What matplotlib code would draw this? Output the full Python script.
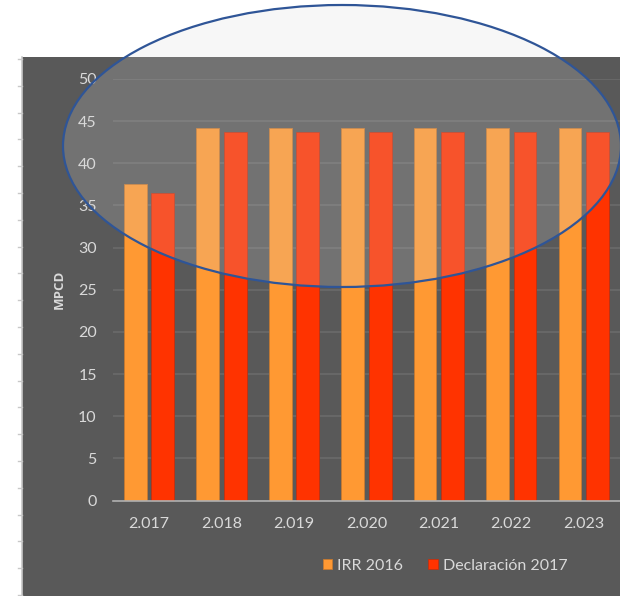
import matplotlib
matplotlib.use("Agg")
import matplotlib.pyplot as plt
from matplotlib.patches import Ellipse, Rectangle
import numpy as np

categories = ["2.017", "2.018", "2.019", "2.020", "2.021", "2.022", "2.023"]
irr_2016 = [37.5, 44.2, 44.2, 44.2, 44.2, 44.2, 44.2]
declaracion_2017 = [36.5, 43.7, 43.7, 43.7, 43.7, 43.7, 43.7]
series_names = ["IRR 2016", "Declaración 2017"]
y_ticks = [0, 5, 10, 15, 20, 25, 30, 35, 40, 45, 50]

plt.rcParams['font.family'] = ['Lato', 'DejaVu Sans']

W, H = 620, 596
fig = plt.figure(figsize=(6.2, 5.96), dpi=100)
fig.patch.set_facecolor("white")

# background overlay axes for dark panel (drawn first)
bgax = fig.add_axes([0, 0, 1, 1], zorder=-5)
bgax.set_xlim(0, W)
bgax.set_ylim(H, 0)
bgax.axis("off")
bgax.add_patch(Rectangle((22, 57), W - 22, H - 57, facecolor="#595959", edgecolor="none"))
bgax.plot([22, 22], [57, H], color="#c8c8c8", lw=1.2)
for k in range(21):
    yy = 59 + 26.8 * k
    bgax.plot([18, 22], [yy, yy], color="#c8c8c8", lw=1.0)

ax = fig.add_axes([112.75 / W, (H - 500.5) / H, (620 - 112.75) / W, (500.5 - 79) / H], zorder=1)
ax.set_facecolor("none")
x = np.arange(len(categories))
bw = 0.315
off = 0.19
ax.bar(x - off, irr_2016, width=bw, color="#FF9933", edgecolor="#c77a30", linewidth=0.6,
       label=series_names[0], zorder=3)
ax.bar(x + off, declaracion_2017, width=bw, color="#FF3300", edgecolor="#c23010", linewidth=0.6,
       label=series_names[1], zorder=3)
ax.set_xlim(-0.5, 6.5)
ax.set_ylim(0, 50)
ax.set_yticks(y_ticks)
ax.set_xticks(x)
ax.set_xticklabels(categories)
ax.yaxis.grid(True, color="#6b6b6b", lw=1.2, zorder=1)
ax.set_axisbelow(True)
for s in ["top", "right", "left"]:
    ax.spines[s].set_visible(False)
ax.spines["bottom"].set_color("#b0b0b0")
ax.spines["bottom"].set_linewidth(1.2)
ax.spines["bottom"].set_zorder(4)
ax.tick_params(axis="both", length=0, colors="#d9d9d9", labelsize=11.5)
ax.tick_params(axis="y", pad=11.5)
ax.tick_params(axis="x", pad=12)
ax.set_ylabel("MPCD", color="#d9d9d9", fontsize=9.5, fontweight="bold", labelpad=9,
              family=["Open Sans", "DejaVu Sans"])

leg = ax.legend(loc="center", bbox_to_anchor=(445 / W, (H - 566) / H),
                bbox_transform=fig.transFigure, ncol=2, frameon=False,
                fontsize=11.5, handlelength=0.6, handleheight=0.6, handletextpad=0.3,
                columnspacing=1.6)
for t in leg.get_texts():
    t.set_color("#d9d9d9")

# ellipse overlay
ov = fig.add_axes([0, 0, 1, 1], zorder=10)
ov.set_xlim(0, W)
ov.set_ylim(H, 0)
ov.axis("off")
ov.patch.set_alpha(0)
ov.add_patch(Ellipse((342, 146), 558, 282, facecolor=(216 / 255, 216 / 255, 216 / 255, 0.2),
                     edgecolor="#2F5597", lw=1.6))

fig.savefig("out.png", dpi=100)
